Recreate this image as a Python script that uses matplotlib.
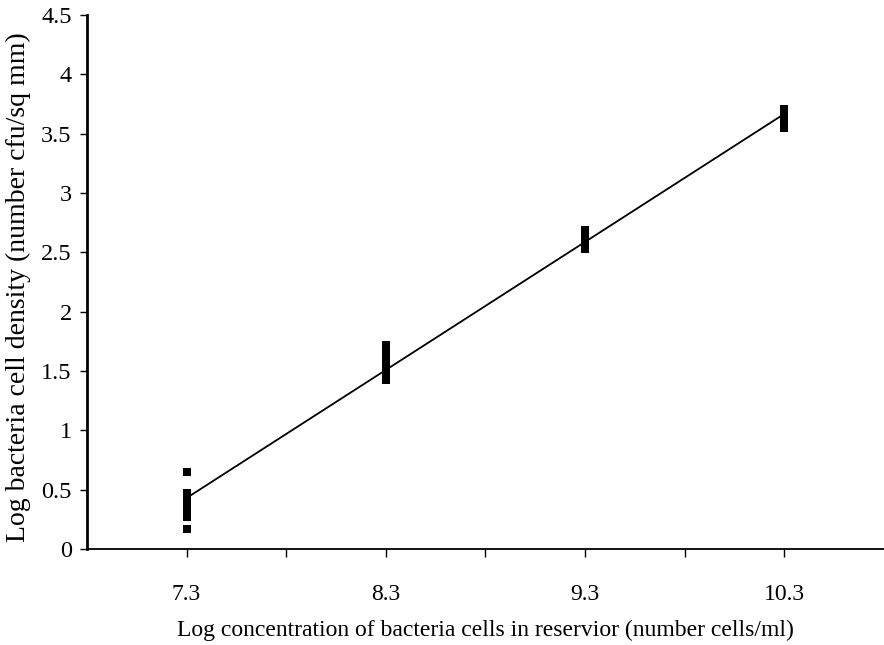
import numpy as np
import matplotlib
matplotlib.use("Agg")
import matplotlib.pyplot as plt

plt.rcParams['font.family'] = ['Liberation Serif', 'DejaVu Serif']

# Reservoir concentrations (log cells/ml) and measured surface densities (log cfu/sq mm)
concentrations = [7.3, 8.3, 9.3, 10.3]
density_73 = [0.65, 0.47, 0.43, 0.39, 0.35, 0.31, 0.27, 0.17]
density_83 = [1.72, 1.67, 1.62, 1.57, 1.52, 1.47, 1.42]
density_93 = [2.69, 2.65, 2.61, 2.57, 2.53]
density_103 = [3.71, 3.67, 3.63, 3.59, 3.55]
groups = [density_73, density_83, density_93, density_103]

tick_labels = ["7.3", "8.3", "9.3", "10.3"]
y_ticks = [0, 0.5, 1, 1.5, 2, 2.5, 3, 3.5, 4, 4.5]
y_tick_labels = ["0", "0.5", "1", "1.5", "2", "2.5", "3", "3.5", "4", "4.5"]

fig = plt.figure(figsize=(8.84, 6.45), dpi=100)
ax = fig.add_axes([0.0984, 0.149, 0.9016, 0.828])

for xv, ys in zip(concentrations, groups):
    ax.plot([xv] * len(ys), ys, linestyle='none', marker='s', markersize=5.5,
            color='black', markeredgewidth=0)

# Linear trend through the group means
means = [np.mean(g) for g in groups]
slope, intercept = np.polyfit(concentrations, means, 1)
xs = np.array([concentrations[0], concentrations[-1]])
ax.plot(xs, slope * xs + intercept, color='black', linewidth=1.3)

ax.set_xlim(6.8, 10.8)
ax.set_ylim(0, 4.5)

ax.set_xticks(concentrations)
ax.set_xticklabels(tick_labels, fontsize=17)
ax.set_xticks(np.arange(7.3, 10.31, 0.5), minor=True)
ax.tick_params(axis='x', which='both', direction='out', length=6, width=1.0, pad=19)

ax.set_yticks(y_ticks)
ax.set_yticklabels(y_tick_labels, fontsize=17.5)
ax.tick_params(axis='y', direction='out', length=5, width=1.0, pad=6)

for side in ('top', 'right'):
    ax.spines[side].set_visible(False)
ax.spines['left'].set_linewidth(2.0)
ax.spines['bottom'].set_linewidth(1.3)

ax.set_xlabel("Log concentration of bacteria cells in reservior (number cells/ml)",
              fontsize=17, labelpad=11)
ax.set_ylabel("Log bacteria cell density (number cfu/sq mm)", fontsize=20,
              va='center')
ax.yaxis.set_label_coords(-0.086, 0.49)

fig.savefig("out.png", dpi=100)
